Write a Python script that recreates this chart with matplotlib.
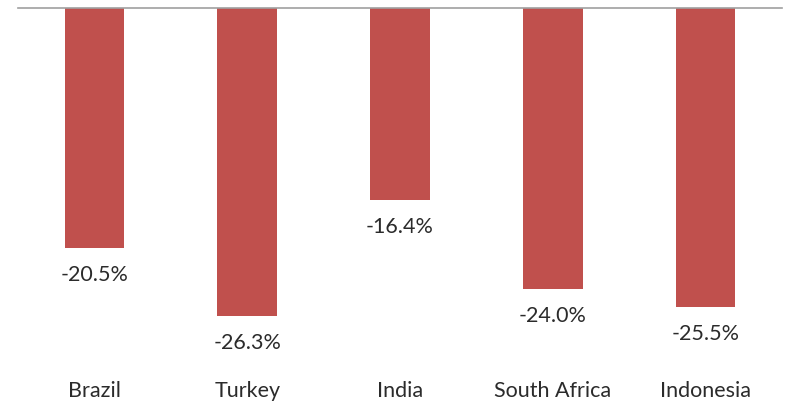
import matplotlib
matplotlib.use("Agg")
import matplotlib.pyplot as plt

countries = ["Brazil", "Turkey", "India", "South Africa", "Indonesia"]
changes = [-20.5, -26.3, -16.4, -24.0, -25.5]

plt.rcParams["font.family"] = ["Lato", "DejaVu Sans"]

fig = plt.figure(figsize=(7.85, 4.01), dpi=100)
ax = fig.add_axes([0.023, 0.057, 0.973, 0.923])

x = range(len(countries))
ax.bar(x, changes, width=0.39, color="#C0504D")

for xi, v in zip(x, changes):
    ax.annotate(
        f"{v:.1f}%",
        (xi, v),
        xytext=(0, -19.5),
        textcoords="offset points",
        ha="center",
        va="center",
        fontsize=15.5,
        color="#2b2b2b",
    )

ax.set_xlim(-0.5, len(countries) - 0.5)
ax.set_ylim(-31.6, 0)
ax.set_xticks(list(x))
ax.set_xticklabels(countries, fontsize=15.5, color="#2b2b2b")
ax.tick_params(axis="x", length=0, pad=2)
ax.set_yticks([])

for side in ["left", "right", "bottom"]:
    ax.spines[side].set_visible(False)
ax.spines["top"].set_color("#A0A0A0")
ax.spines["top"].set_linewidth(1.2)

fig.savefig("out.png", dpi=100)
